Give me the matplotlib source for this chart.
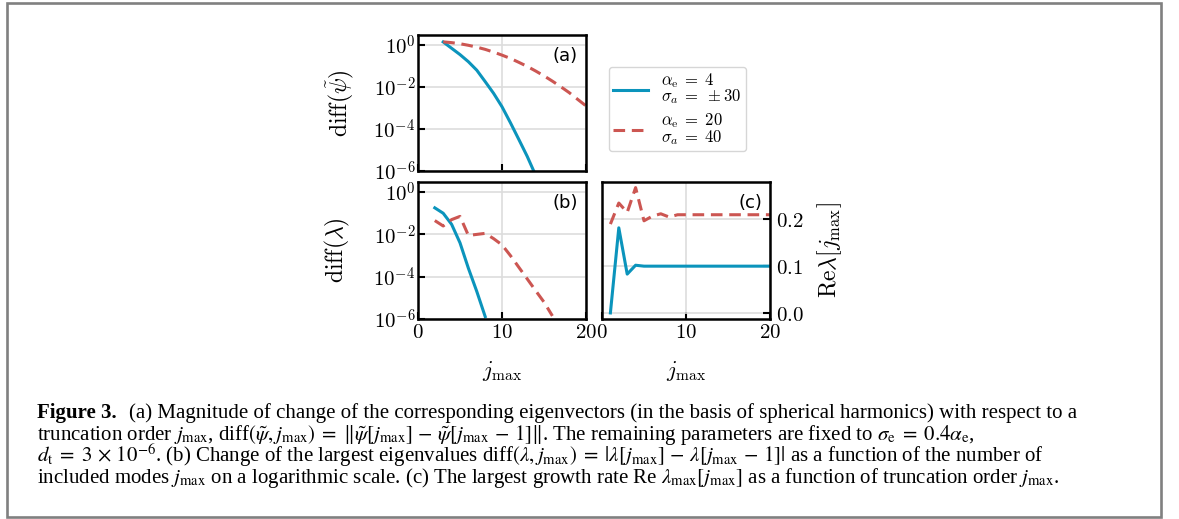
import matplotlib
matplotlib.use("Agg")
import matplotlib.pyplot as plt
from matplotlib.patches import Rectangle

plt.rcParams['mathtext.fontset'] = 'cm'
plt.rcParams['font.family'] = ['DejaVu Sans']

W, H, DPI = 1179, 519, 100

# ---- data -------------------------------------------------------------
# (a) eigenvector change
j_psi_a = [3, 4, 5, 6, 7, 8, 9, 10, 11, 12, 13, 14]
diff_psi_a = [1.4, 0.7, 0.35, 0.16, 0.063, 0.018, 5.0e-3, 1.15e-3,
              2.0e-4, 3.2e-5, 5.0e-6, 6.3e-7]
j_psi_b = [3, 4, 5, 6, 7, 8, 9, 10, 11, 12, 13, 14, 15, 16, 17, 18, 19, 20]
diff_psi_b = [1.41, 1.30, 1.15, 0.97, 0.79, 0.62, 0.46, 0.33, 0.23, 0.15,
              0.096, 0.058, 0.034, 0.019, 0.0103, 0.0054, 0.0026, 0.00126]

# (b) eigenvalue change
j_lam_a = [2, 3, 4, 5, 6, 7, 8]
diff_lam_a = [0.18, 0.10, 0.03, 0.004, 2.5e-4, 2.0e-5, 1.3e-6]
j_lam_b = [2, 3, 4, 5, 6, 7, 8, 9, 10, 11, 12, 13, 14, 15, 16]
diff_lam_b = [0.045, 0.025, 0.05, 0.071, 0.0089, 0.010, 0.0112, 0.0063,
              0.0032, 0.001, 2.8e-4, 7.9e-5, 2.2e-5, 6.3e-6, 1.4e-6]

# (c) growth rate
j_re = [1, 2, 3, 4, 5, 6, 7, 8, 9, 10, 11, 12, 13, 14, 15, 16, 17, 18, 19, 20]
re_lam_a = [0.0, 0.182, 0.083, 0.102, 0.100, 0.100, 0.100, 0.100, 0.100, 0.100,
            0.100, 0.100, 0.100, 0.100, 0.100, 0.100, 0.100, 0.100, 0.100, 0.100]
re_lam_b = [0.190, 0.235, 0.215, 0.268, 0.197, 0.207, 0.212, 0.205, 0.210, 0.210,
            0.210, 0.210, 0.210, 0.210, 0.210, 0.210, 0.210, 0.210, 0.210, 0.210]

label_a = '$\\alpha_\\mathrm{e}\\;=\\;4$\n$\\sigma_a\\;=\\;\\pm 30$'
label_b = '$\\alpha_\\mathrm{e}\\;=\\;20$\n$\\sigma_a\\;=\\;40$'

x_ticks = [0, 10, 20]
x_ticklabels = ['$0$', '$10$', '$20$']
log_ticks = [1e-6, 1e-4, 1e-2, 1e0]
log_ticklabels = ['$10^{-6}$', '$10^{-4}$', '$10^{-2}$', '$10^{0}$']
re_ticks = [0.0, 0.1, 0.2]
re_ticklabels = ['$0.0$', '$0.1$', '$0.2$']

# ---- style ------------------------------------------------------------
BLUE = '#0b94bc'
RED = '#cc5652'
GRID = '#dddddd'
LW = 2.2
DASH = (3.8, 2.2)
TICK_FS = 15
LABEL_FS = 17

fig = plt.figure(figsize=(W / DPI, H / DPI), dpi=DPI)


def px_axes(left, top, right, bottom):
    return fig.add_axes([left / W, 1 - bottom / H, (right - left) / W, (bottom - top) / H])


def style(ax, side='left'):
    for s in ax.spines.values():
        s.set_linewidth(1.8)
        s.set_color('black')
    ax.grid(True, color=GRID, lw=1.2)
    ax.set_axisbelow(True)
    ax.tick_params(axis='both', which='major', direction='in', length=5, width=1.5,
                   labelsize=TICK_FS, pad=2)
    ax.tick_params(axis='both', which='minor', length=0)
    ax.set_xlim(0, 20)
    ax.set_xticks(x_ticks)
    if side == 'right':
        ax.yaxis.tick_right()
        ax.yaxis.set_label_position('right')
        ax.tick_params(axis='y', pad=4)


ax_a = px_axes(418, 35, 586, 171)
ax_b = px_axes(418, 182, 586, 319)
ax_c = px_axes(602, 182, 770, 319)

# (a)
style(ax_a)
la, = ax_a.plot(j_psi_a, diff_psi_a, color=BLUE, lw=LW, label=label_a)
lb, = ax_a.plot(j_psi_b, diff_psi_b, color=RED, lw=LW, ls=(0, DASH), label=label_b)
ax_a.set_yscale('log')
ax_a.set_ylim(1e-6, 3)
ax_a.set_yticks(log_ticks)
ax_a.set_yticklabels(log_ticklabels)
ax_a.minorticks_off()
ax_a.set_xticklabels([])
ax_a.set_ylabel('$\\mathrm{diff}(\\tilde{\\psi})$', fontsize=LABEL_FS)
ax_a.yaxis.set_label_coords(-0.37, 0.5)
ax_a.text(1 - 8 / 168, 1 - 12 / 136, '(a)', transform=ax_a.transAxes,
          ha='right', va='top', fontsize=13)

# (b)
style(ax_b)
ax_b.plot(j_lam_a, diff_lam_a, color=BLUE, lw=LW)
ax_b.plot(j_lam_b, diff_lam_b, color=RED, lw=LW, ls=(0, DASH))
ax_b.set_yscale('log')
ax_b.set_ylim(1e-6, 3)
ax_b.set_yticks(log_ticks)
ax_b.set_yticklabels(log_ticklabels)
ax_b.minorticks_off()
ax_b.set_xticklabels(x_ticklabels)
ax_b.set_ylabel('$\\mathrm{diff}(\\lambda)$', fontsize=LABEL_FS)
ax_b.yaxis.set_label_coords(-0.39, 0.5)
ax_b.set_xlabel('$j_\\mathrm{max}$', fontsize=16)
ax_b.xaxis.set_label_coords(0.5, -0.29)
ax_b.text(1 - 8 / 168, 1 - 12 / 137, '(b)', transform=ax_b.transAxes,
          ha='right', va='top', fontsize=13)

# (c)
style(ax_c, side='right')
ax_c.plot(j_re, re_lam_a, color=BLUE, lw=LW)
ax_c.plot(j_re, re_lam_b, color=RED, lw=LW, ls=(0, DASH))
ax_c.set_ylim(-0.013, 0.28)
ax_c.set_yticks(re_ticks)
ax_c.set_yticklabels(re_ticklabels)
ax_c.set_xticklabels(x_ticklabels)
ax_c.set_ylabel('$\\mathrm{Re}\\lambda[j_\\mathrm{max}]$', fontsize=LABEL_FS)
ax_c.yaxis.set_label_coords(1.27, 0.5)
ax_c.set_xlabel('$j_\\mathrm{max}$', fontsize=16)
ax_c.xaxis.set_label_coords(0.5, -0.29)
ax_c.text(1 - 8 / 168, 1 - 12 / 137, '(c)', transform=ax_c.transAxes,
          ha='right', va='top', fontsize=13)

# legend placed beside panel (a)
leg = fig.legend(handles=[la, lb], loc='center',
                 bbox_to_anchor=(677.5 / W, 1 - 109 / H),
                 fontsize=12, frameon=True, fancybox=True,
                 handlelength=2.1, handletextpad=0.8, labelspacing=0.3,
                 borderpad=0.25)
for t in leg.get_texts():
    t.set_linespacing(0.85)
leg.get_frame().set_edgecolor('#cccccc')
leg.get_frame().set_linewidth(1.0)

# caption
cap = dict(family='Liberation Serif', fontsize=15, math_fontfamily='stix',
           va='baseline', ha='left')
fig.text(37 / W, 1 - 418 / H, 'Figure 3.', fontweight='bold', **cap)
fig.text(129 / W, 1 - 418 / H,
         '(a) Magnitude of change of the corresponding eigenvectors (in the basis of '
         'spherical harmonics) with respect to a', **cap)
fig.text(37 / W, 1 - 440 / H,
         r'truncation order $j_\mathrm{max}$, diff$(\tilde{\psi}, j_\mathrm{max})\;=\;'
         r'\Vert\tilde{\psi}[j_\mathrm{max}]\,-\,\tilde{\psi}[j_\mathrm{max}\,-\,1]\Vert$. '
         r'The remaining parameters are fixed to $\sigma_\mathrm{e}\;=\;0.4\alpha_\mathrm{e}$,',
         **cap)
fig.text(37 / W, 1 - 462 / H,
         r'$d_\mathrm{t}\;=\;3\,\times\,10^{-6}$. (b) Change of the largest eigenvalues '
         r'diff$(\lambda, j_\mathrm{max})\;=\;|\lambda[j_\mathrm{max}]\,-\,'
         r'\lambda[j_\mathrm{max}\,-\,1]|$ as a function of the number of', **cap)
fig.text(37 / W, 1 - 483 / H,
         r'included modes $j_\mathrm{max}$ on a logarithmic scale. (c) The largest growth rate '
         r'Re $\lambda_\mathrm{max}[j_\mathrm{max}]$ as a function of truncation order '
         r'$j_\mathrm{max}$.', **cap)

# outer frame
fig.patches.append(Rectangle((7 / W, 1 - 516.5 / H), (1160.5 - 7) / W, (516.5 - 3) / H,
                             transform=fig.transFigure, fill=False,
                             edgecolor='#808080', linewidth=1.9))

fig.savefig('out.png', dpi=DPI)
